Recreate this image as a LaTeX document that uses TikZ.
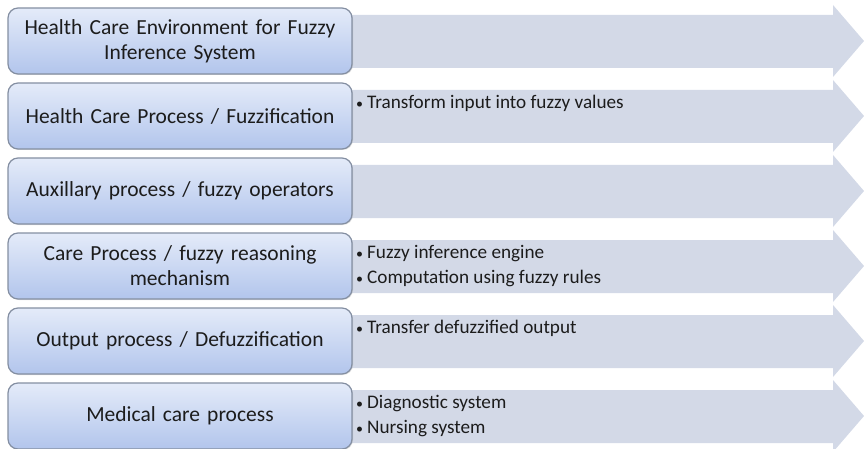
\documentclass[tikz,border=0pt]{standalone}
\usepackage{fontspec}
\setmainfont{Carlito}
\usetikzlibrary{positioning,calc,shadows}

\definecolor{arrowfill}{HTML}{D3D9E7}
\definecolor{boxtop}{HTML}{E4EBF9}
\definecolor{boxbottom}{HTML}{B2C5EC}
\definecolor{boxline}{HTML}{848FA2}
\definecolor{inktext}{HTML}{1C1C1C}

\tikzset{
  stage/.style={draw=boxline, line width=1.2pt, rounded corners=10pt,
    top color=boxtop, bottom color=boxbottom,
    drop shadow={opacity=0.25, shadow xshift=1pt, shadow yshift=-1pt},
    minimum width=344pt, minimum height=66pt, text width=336pt,
    align=center, inner sep=0pt, outer sep=0pt, anchor=north west,
    font=\fontsize{21.5}{25}\selectfont, text=inktext},
  notes/.style={anchor=base west, inner sep=0pt,
    font=\fontsize{19.2}{25}\selectfont, text=inktext},
}
\newcommand{\pt}{{\fontsize{14}{14}\selectfont\textbullet}\hspace{4pt}}

\begin{document}
\begin{tikzpicture}[x=1pt,y=-1pt]
\useasboundingbox (0,0) rectangle (864,449);
\clip (0,0) rectangle (864,449);

% arrows behind the stages
\foreach \y in {8,83,...,383}
   \fill [arrowfill] (330,\y+7) -- (833,\y+7) -- (833,\y-3) -- (864,\y+33)
        -- (833,\y+69) -- (833,\y+60) -- (330,\y+60) -- cycle;

% stages
\node [stage] (env) at (8,8) {Health Care Environment for Fuzzy\\Inference System};
\node [stage, below=9pt of env] (fuzz) {Health Care Process / Fuzzification};
\node [stage, below=9pt of fuzz] (aux) {Auxillary process / fuzzy operators};
\node [stage, below=9pt of aux] (care) {Care Process / fuzzy reasoning\\mechanism};
\node [stage, below=9pt of care] (defuzz) {Output process / Defuzzification};
\node [stage, below=9pt of defuzz] (medical) {Medical care process};

% notes on the arrows
\node [notes] (fuzznote) at ($(fuzz.north east)+(4,26)$) {\pt Transform input into fuzzy values};
\node [notes] (carenote) at ($(care.north east)+(4,25)$) {\pt Fuzzy inference engine};
\node [notes] (carenote2) at ($(carenote.base west)+(0,25)$) {\pt Computation using fuzzy rules};
\node [notes] (defuzznote) at ($(defuzz.north east)+(4,25)$) {\pt Transfer defuzzified output};
\node [notes] (mednote) at ($(medical.north east)+(4,25)$) {\pt Diagnostic system};
\node [notes] (mednote2) at ($(mednote.base west)+(0,25)$) {\pt Nursing system};

\end{tikzpicture}
\end{document}
